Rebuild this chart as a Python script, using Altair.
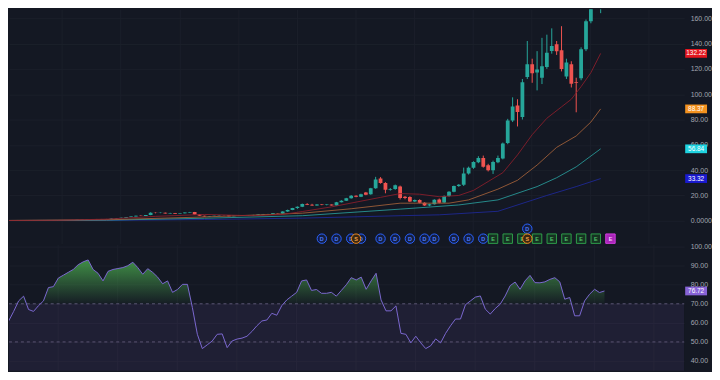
import altair as alt
import pandas as pd

# ---------------- data ----------------
opens = [0.24, 0.25, 0.26, 0.27, 0.30, 0.32, 0.29, 0.31, 0.34, 0.35,
         0.41, 0.45, 0.52, 0.58, 0.66, 0.78, 0.92, 1.12, 1.35, 1.25,
         1.40, 1.28, 1.75, 2.10, 2.45, 2.90, 3.40, 4.00, 3.80, 4.50,
         6.40, 6.10, 6.40, 5.80, 6.10, 5.60, 5.90, 6.50, 6.90, 5.00,
         3.90, 3.40, 3.70, 3.90, 4.20, 4.15, 3.60, 3.90, 4.00, 4.10,
         4.30, 4.60, 4.90, 5.30, 5.40, 5.90, 5.70, 7.30, 8.60, 10.0,
         11.1, 13.3, 12.6, 12.0, 12.9, 12.4, 12.8, 12.1, 14.7, 15.9,
         17.8, 19.8, 18.9, 22.3, 20.9, 25.6, 33.3, 29.8, 24.6, 25.2,
         27.0, 19.0, 18.8, 15.2, 16.4, 14.2, 12.1, 13.0, 16.8, 14.4,
         19.6, 23.0, 27.4, 28.4, 37.4, 41.8, 46.3, 49.6, 43.9, 40.0,
         46.3, 49.2, 61.4, 79.2, 91.0, 82.0, 113.5, 123.7, 117.2, 113.0,
         121.5, 134.1, 139.4, 134.7, 114.0, 123.7, 109.6, 112.5, 135.4, 157.6,
         178.0, 170.0]
highs = [0.26, 0.27, 0.28, 0.31, 0.33, 0.33, 0.32, 0.35, 0.37, 0.42,
         0.46, 0.53, 0.60, 0.68, 0.80, 0.95, 1.15, 1.40, 1.45, 1.45,
         1.48, 1.80, 2.20, 2.50, 2.95, 3.50, 4.10, 4.30, 4.60, 6.70,
         6.60, 6.60, 6.50, 6.30, 6.20, 6.00, 6.60, 7.00, 7.00, 5.20,
         4.00, 3.80, 4.00, 4.30, 4.35, 4.20, 3.95, 4.10, 4.20, 4.40,
         4.70, 5.00, 5.40, 5.50, 6.00, 6.00, 7.50, 8.80, 10.2, 11.4,
         13.6, 13.9, 13.4, 13.1, 13.2, 13.0, 12.9, 14.9, 16.2, 18.1,
         20.3, 20.2, 21.4, 22.8, 26.0, 34.7, 34.5, 30.5, 25.8, 28.6,
         27.8, 19.6, 19.4, 16.8, 17.0, 14.6, 13.5, 17.0, 17.6, 20.0,
         23.4, 27.8, 29.0, 42.0, 42.8, 47.0, 51.0, 51.5, 45.0, 47.5,
         51.5, 61.8, 80.5, 97.5, 96.0, 112.0, 142.0, 128.0, 134.0, 144.5,
         147.0, 152.0, 142.0, 153.7, 128.0, 126.0, 113.0, 137.0, 159.0, 182.0,
         190.0, 178.0]
lows = [0.23, 0.24, 0.25, 0.26, 0.29, 0.28, 0.28, 0.30, 0.33, 0.34,
        0.40, 0.44, 0.50, 0.56, 0.64, 0.75, 0.90, 1.08, 1.20, 1.22,
        1.22, 1.25, 1.70, 2.05, 2.40, 2.85, 3.30, 3.70, 3.75, 4.40,
        5.90, 6.00, 5.70, 5.70, 5.50, 5.50, 5.80, 6.40, 4.90, 3.80,
        3.30, 3.30, 3.60, 3.80, 4.00, 3.50, 3.55, 3.80, 3.90, 4.00,
        4.20, 4.50, 4.80, 5.10, 5.30, 5.60, 5.60, 7.10, 8.40, 9.40,
        10.8, 12.4, 11.8, 11.9, 12.3, 12.2, 12.0, 12.0, 14.5, 15.6,
        17.5, 18.6, 18.7, 20.2, 20.6, 25.3, 29.3, 21.7, 23.8, 24.5,
        16.8, 17.0, 14.8, 14.8, 13.8, 11.8, 11.5, 12.8, 13.8, 14.0,
        19.0, 22.5, 26.8, 27.5, 36.5, 41.0, 45.5, 42.0, 39.0, 37.0,
        45.5, 48.5, 60.5, 78.0, 74.5, 80.0, 112.0, 109.0, 103.0, 108.0,
        120.0, 132.0, 131.0, 118.0, 112.0, 105.3, 85.7, 111.0, 134.0, 156.0,
        176.0, 164.0]
closes = [0.25, 0.26, 0.27, 0.30, 0.32, 0.29, 0.31, 0.34, 0.35, 0.41,
          0.45, 0.52, 0.58, 0.66, 0.78, 0.92, 1.12, 1.35, 1.25, 1.40,
          1.28, 1.75, 2.10, 2.45, 2.90, 3.40, 4.00, 3.80, 4.50, 6.40,
          6.10, 6.40, 5.80, 6.10, 5.60, 5.90, 6.50, 6.90, 5.00, 3.90,
          3.40, 3.70, 3.90, 4.20, 4.15, 3.60, 3.90, 4.00, 4.10, 4.30,
          4.60, 4.90, 5.30, 5.40, 5.90, 5.70, 7.30, 8.60, 10.0, 11.1,
          13.3, 12.6, 12.0, 12.9, 12.4, 12.8, 12.1, 14.7, 15.9, 17.8,
          19.8, 18.9, 21.0, 20.5, 25.6, 32.6, 29.8, 24.6, 25.2, 28.0,
          18.0, 17.9, 15.2, 16.4, 14.2, 12.1, 13.0, 16.6, 14.2, 19.6,
          23.0, 27.4, 28.4, 37.4, 41.8, 46.5, 49.6, 42.6, 40.0, 46.5,
          49.6, 61.0, 79.2, 90.2, 86.0, 109.5, 123.7, 116.5, 119.5, 122.0,
          132.8, 138.0, 134.0, 119.8, 125.0, 108.3, 109.0, 135.4, 157.6, 178.0,
          185.0, 176.0]
rsi_values = [57, 61, 66, 71.5, 74, 67, 66, 69, 71.5, 78.5,
              79, 83.5, 85, 86.5, 88, 90.5, 92, 93, 88, 86,
              82, 87, 88, 88.5, 89, 90, 91.8, 89, 85.5, 88.4,
              86.5, 84, 80.5, 82, 76, 77.5, 80.2, 80.2, 68, 54,
              46.5, 48.5, 50.5, 54, 54.2, 47, 50.5, 51.5, 52, 53,
              55.5, 58.5, 61, 61.5, 65, 64, 69, 72, 74, 76,
              82, 82.5, 77, 77.5, 75.5, 75.5, 76, 74, 77, 80,
              83.7, 82.5, 84, 77.6, 82, 86, 72, 66.3, 66.3, 68.9,
              54.5, 54, 49.5, 53, 49.5, 46.5, 48, 51.6, 49.5, 54.5,
              58.5, 62, 62, 69.5, 71.5, 73.5, 74.1, 67.2, 64.6, 67.5,
              69.8, 74.1, 79.5, 81.4, 77.6, 82, 84.9, 81.1, 81, 81.5,
              82.8, 83.7, 81.5, 72.4, 73.3, 63.7, 63.7, 71.5, 75, 77.6,
              75.9, 76.72]

# moving averages (read at sample candles)
ma_red_i = [0, 10, 20, 30, 40, 50, 56, 60, 66, 72, 76, 80, 84, 88, 92, 95, 98, 101, 104, 107, 110, 113, 115, 117, 119, 121]
ma_red_v = [0.25, 0.4, 1.3, 3.5, 5.0, 4.0, 5.0, 7.3, 11, 15.5, 18.5, 21.5, 21, 19, 20, 24, 31, 38, 52, 68, 81, 90, 96, 106, 117, 132.22]
ma_orange_i = [0, 20, 40, 60, 70, 80, 90, 94, 100, 104, 108, 112, 116, 119, 121]
ma_orange_v = [0.25, 0.8, 3.0, 6.0, 9.5, 13.9, 13.9, 16.5, 25, 32, 44, 58, 67, 78, 88.37]
ma_cyan_i = [0, 20, 40, 60, 80, 92, 100, 108, 112, 116, 121]
ma_cyan_v = [0.25, 0.5, 2.0, 4.0, 9.2, 12.5, 16.5, 27, 34, 42.6, 56.84]
ma_blue_i = [0, 20, 40, 60, 80, 88, 100, 110, 116, 121]
ma_blue_v = [0.2, 0.3, 1.0, 2.1, 4.0, 4.7, 7.5, 20, 27, 33.32]

# last-value tags
tag_values = [132.22, 88.37, 56.84, 33.32]
tag_labels = ["132.22", "88.37", "56.84", "33.32"]
tag_colors = ["#e3161f", "#f3921f", "#1fd3e0", "#1a1ad0"]
rsi_tag_value = [76.72]
rsi_tag_label = ["76.72"]

# event markers (candle index)
div_i = [64, 67, 70, 72, 76, 79, 82, 85, 87, 91, 94, 97]
div_raised_i = [106]
split_i = [71, 106]
earn_i = [99, 102, 105, 108, 111, 114, 117, 120]
earn_next_i = [123]

price_ticks = [0, 20, 40, 60, 80, 100, 120, 140, 160]
rsi_ticks = [40, 50, 60, 70, 80, 90, 100]
rsi_levels = [70, 50]
grid_x = [10.86, 22.86, 34.86, 46.86, 58.86, 70.86, 82.86, 94.86, 106.86, 118.86, 130.86]

# ---------------- styling ----------------
BG = "#141823"
GRID = "#1b1f2a"
UP = "#26a69a"
DOWN = "#ef5350"
LABEL = "#a3a6af"
FONT = "Liberation Sans"
W = 680
H1 = 236
H2 = 127

xscale = alt.Scale(domain=[1.06, 137.06], nice=False, zero=False)
pscale = alt.Scale(domain=[-18.04, 167.06], nice=False, zero=False)
rscale = alt.Scale(domain=[34.9, 101.04], nice=False, zero=False)

xaxis = alt.Axis(values=grid_x, grid=True, gridColor=GRID, labels=False, ticks=False,
                 domain=False, title=None)
paxis = alt.Axis(orient="right", values=price_ticks, grid=True, gridColor=GRID, ticks=False,
                 domain=False, title=None, labelColor=LABEL, labelFontSize=7, labelFont=FONT,
                 labelPadding=6,
                 labelExpr="datum.value == 0 ? '0.0000' : format(datum.value, '.2f')")
raxis = alt.Axis(orient="right", values=rsi_ticks, grid=True, gridColor=GRID, ticks=False,
                 domain=False, title=None, labelColor=LABEL, labelFontSize=7, labelFont=FONT,
                 labelPadding=6, format=".2f")


def X():
    return alt.X("i:Q", scale=xscale, axis=xaxis, title=None)


def PY(field):
    return alt.Y(field, scale=pscale, axis=paxis, title=None)


def RY(field):
    return alt.Y(field, scale=rscale, axis=raxis, title=None)


candles = pd.DataFrame({"i": list(range(len(closes))), "open": opens, "high": highs,
                        "low": lows, "close": closes})
candle_color = alt.when(alt.datum.close >= alt.datum.open).then(alt.value(UP)).otherwise(alt.value(DOWN))

wicks = alt.Chart(candles).mark_rule(clip=True, strokeWidth=1).encode(
    x=X(), y=PY("low:Q"), y2="high:Q", color=candle_color)
bodies = alt.Chart(candles).mark_bar(clip=True, size=3.8).encode(
    x=X(), y=PY("open:Q"), y2="close:Q", color=candle_color)


def ma_line(idx, vals, color):
    df = pd.DataFrame({"i": idx, "v": vals})
    return alt.Chart(df).mark_line(clip=True, strokeWidth=1, color=color, opacity=0.85).encode(
        x=X(), y=PY("v:Q"))


ma_blue = ma_line(ma_blue_i, ma_blue_v, "#1f2a9a")
ma_cyan = ma_line(ma_cyan_i, ma_cyan_v, "#2a9e9c")
ma_orange = ma_line(ma_orange_i, ma_orange_v, "#a6623a")
ma_red = ma_line(ma_red_i, ma_red_v, "#8e1f2c")

TAG_SHAPE = "M-1,-0.4H1V0.4H-1Z"
tags_df = pd.DataFrame({"v": tag_values, "label": tag_labels, "c": tag_colors})
tag_boxes = alt.Chart(tags_df).mark_point(shape=TAG_SHAPE, size=484, filled=True, opacity=1).encode(
    x=alt.value(692), y=PY("v:Q"), color=alt.Color("c:N", scale=None))
tag_text = alt.Chart(tags_df).mark_text(fontSize=6.5, font=FONT, color="white", align="center",
                                        baseline="middle").encode(
    x=alt.value(692), y=PY("v:Q"), text="label:N")


def marker_layer(idx, ypix, shape, stroke, fill, letter, tcolor):
    df = pd.DataFrame({"i": idx, "t": [letter] * len(idx)})
    pts = alt.Chart(df).mark_point(shape=shape, size=90, filled=False, stroke=stroke, fill=fill,
                                   strokeWidth=1, opacity=1, fillOpacity=1).encode(
        x=X(), y=alt.value(ypix))
    txt = alt.Chart(df).mark_text(fontSize=5.5, font=FONT, fontWeight="bold", color=tcolor,
                                  baseline="middle", align="center", dy=0.5).encode(
        x=X(), y=alt.value(ypix), text="t:N")
    return [pts, txt]


markers = []
markers += marker_layer(div_i, 231, "circle", "#2962ff", "#141e40", "D", "#4d7dff")
markers += marker_layer(div_raised_i, 221, "circle", "#2962ff", "#141e40", "D", "#4d7dff")
markers += marker_layer(earn_i, 231, "square", "#2e9e4a", "#163222", "E", "#4fc36a")
markers += marker_layer(split_i, 231, "circle", "#f08a1c", "#3a2712", "S", "#f5a040")
markers += marker_layer(earn_next_i, 231, "square", "#d23ce0", "#a825b8", "E", "#f5d0fa")

price_panel = alt.layer(
    wicks, bodies, ma_blue, ma_cyan, ma_orange, ma_red, *markers, tag_boxes, tag_text
).properties(width=W, height=H1)

# ---------------- RSI panel ----------------
rsi_df = pd.DataFrame({"i": list(range(len(rsi_values))), "rsi": rsi_values})

band = alt.Chart(pd.DataFrame({"top": [70], "bottom": [30]})).mark_rect(
    clip=True, color="#7e57c2", opacity=0.11).encode(
    x=alt.value(0), x2=alt.value(W), y=RY("top:Q"), y2="bottom:Q")
levels = alt.Chart(pd.DataFrame({"lvl": rsi_levels})).mark_rule(
    strokeDash=[3, 3], color="#5a5572", strokeWidth=1).encode(
    x=alt.value(0), x2=alt.value(W), y=RY("lvl:Q"))

gradient = alt.Gradient(
    gradient="linear",
    stops=[alt.GradientStop(color="rgba(76,175,80,0.78)", offset=0),
           alt.GradientStop(color="rgba(76,175,80,0.03)", offset=1)],
    x1=0, x2=0, y1=0, y2=1)
ob_area = alt.Chart(rsi_df).transform_calculate(
    top="max(datum.rsi, 70)", base="70").mark_area(clip=True, color=gradient).encode(
    x=X(), y=RY("top:Q"), y2="base:Q")
rsi_line = alt.Chart(rsi_df).mark_line(clip=True, color="#7b68d0", strokeWidth=1).encode(
    x=X(), y=RY("rsi:Q"))

rtag_df = pd.DataFrame({"v": rsi_tag_value, "label": rsi_tag_label})
rtag_box = alt.Chart(rtag_df).mark_point(shape=TAG_SHAPE, size=484, filled=True, opacity=1,
                                         color="#8763d6").encode(x=alt.value(692), y=RY("v:Q"))
rtag_text = alt.Chart(rtag_df).mark_text(fontSize=6.5, font=FONT, color="white", align="center",
                                         baseline="middle").encode(
    x=alt.value(692), y=RY("v:Q"), text="label:N")

rsi_panel = alt.layer(band, levels, ob_area, rsi_line, rtag_box, rtag_text).properties(
    width=W, height=H2)

chart = alt.vconcat(price_panel, rsi_panel, spacing=1, bounds="flush", padding=0).configure(
    background=BG).configure_view(stroke=None)

chart.save("out.html", embed_options={"renderer": "svg", "actions": False})
